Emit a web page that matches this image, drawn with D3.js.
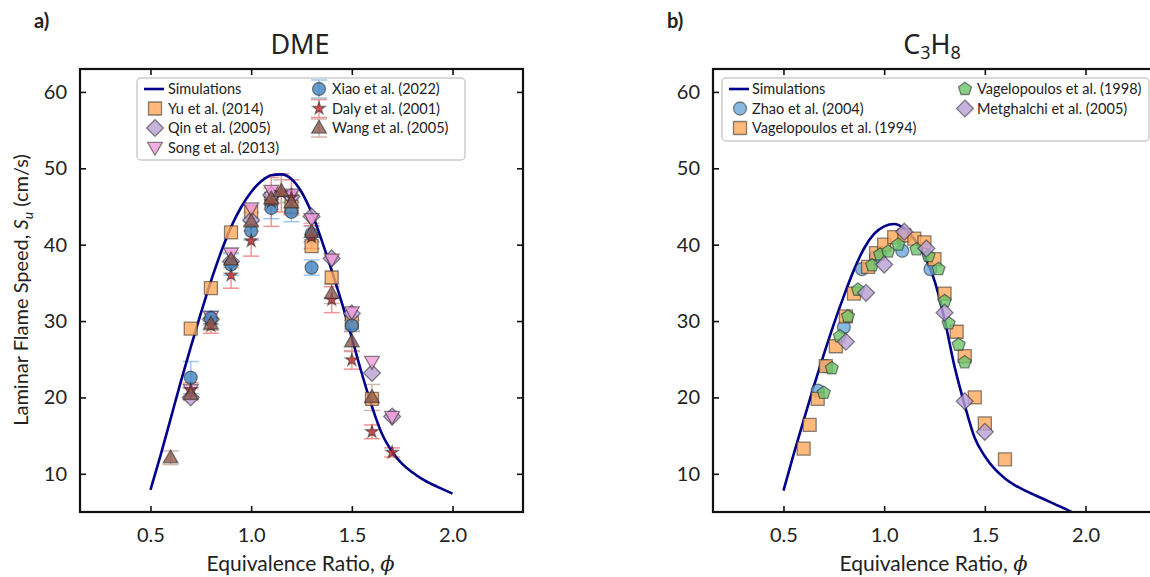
<!DOCTYPE html>
<html>
<head>
<meta charset="utf-8">
<script src="https://cdn.jsdelivr.net/npm/d3@7"></script>
<style>
  body { margin: 0; background: #fff; }
  text { font-family: Lato, "DejaVu Sans", sans-serif; fill: #222; }
</style>
</head>
<body>
<div id="chart"></div>
<script>
// ---- DME (panel a) ----
var dmeSimPhi = [0.5,0.55,0.6,0.65,0.7,0.75,0.8,0.85,0.9,0.95,1.0,1.05,1.1,1.15,1.2,1.25,1.3,1.35,1.4,1.45,1.5,1.55,1.6,1.65,1.7,1.75,1.8,1.85,1.9,1.95,2.0];
var dmeSimSu  = [7.9,12.4,17.2,22.0,26.6,31.0,35.2,39.0,42.3,44.9,46.9,48.3,49.1,49.2,48.6,46.9,44.2,40.6,36.6,32.4,27.8,23.1,18.8,15.2,12.9,11.3,10.2,9.3,8.6,8.0,7.4];

var yuPhi = [0.7,0.8,0.9,1.0,1.1,1.2,1.3,1.4,1.5,1.6];
var yuSu  = [29.0,34.3,41.6,44.3,46.0,45.0,39.8,35.7,29.8,19.8];

var qinPhi = [0.7,0.8,0.9,1.0,1.1,1.2,1.3,1.4,1.5,1.6,1.7];
var qinSu  = [20.0,30.2,37.8,43.2,46.5,46.3,43.7,38.2,31.0,23.2,17.5];

var songPhi = [0.7,0.8,0.9,1.0,1.1,1.2,1.3,1.4,1.5,1.6,1.7];
var songSu  = [21.0,30.6,38.9,44.8,47.1,46.6,43.4,38.1,31.2,24.7,17.5];

var xiaoPhi = [0.7,0.8,0.9,1.0,1.1,1.2,1.3,1.3,1.5];
var xiaoSu  = [22.6,30.4,37.4,41.8,44.8,44.3,41.4,37.0,29.4];
var xiaoErr = [2.1,0.9,1.4,1.2,1.4,1.3,1.0,1.0,0.7];

var dalyPhi = [0.7,0.8,0.9,1.0,1.1,1.15,1.2,1.3,1.4,1.5,1.6,1.7];
var dalySu  = [21.0,29.4,36.0,40.5,45.6,46.8,46.2,41.0,32.8,24.9,15.5,12.8];
var dalyErr = [0.9,1.0,1.7,2.0,3.2,2.5,2.3,1.5,1.7,1.2,0.9,0.6];

var wangPhi = [0.6,0.7,0.8,0.9,1.0,1.1,1.15,1.2,1.3,1.4,1.5,1.6];
var wangSu  = [12.1,20.4,29.6,38.0,43.0,46.0,47.0,45.5,41.6,33.6,27.3,20.0];
var wangErr = [0.9,0.8,0.8,1.0,1.2,1.4,1.5,1.4,1.2,1.3,1.3,1.7];

// ---- C3H8 (panel b) ----
var c3SimPhi = [0.5,0.55,0.6,0.65,0.7,0.75,0.8,0.85,0.9,0.95,1.0,1.05,1.1,1.15,1.2,1.25,1.3,1.35,1.4,1.45,1.5,1.55,1.6,1.65,1.7,1.75,1.8,1.85,1.9,1.93];
var c3SimSu  = [7.8,12.5,17.0,21.4,25.6,29.6,33.3,36.7,39.5,41.4,42.4,42.7,42.1,40.7,38.5,35.3,30.2,24.0,19.0,14.7,12.3,10.6,9.4,8.5,7.8,7.2,6.6,6.0,5.4,5.0];

var zhaoPhi = [0.67,0.71,0.8,0.89,0.96,1.09,1.23];
var zhaoSu  = [20.9,24.1,29.2,36.8,38.4,39.2,36.8];

var vag94Phi = [0.6,0.63,0.67,0.71,0.76,0.81,0.85,0.92,0.96,1.0,1.05,1.1,1.15,1.2,1.25,1.3,1.36,1.4,1.45,1.5,1.6];
var vag94Su  = [13.3,16.4,19.8,24.1,26.7,30.6,33.6,37.1,38.9,40.0,41.0,41.2,40.8,40.3,38.1,33.6,28.6,25.4,20.0,16.6,11.9];

var vag98Phi = [0.7,0.74,0.78,0.82,0.87,0.94,0.98,1.02,1.07,1.16,1.22,1.27,1.3,1.32,1.37,1.4];
var vag98Su  = [20.6,23.8,28.0,30.6,34.1,37.3,38.7,39.1,40.0,39.4,38.5,36.8,32.6,29.7,26.9,24.6];

var metPhi = [0.81,0.91,1.0,1.1,1.21,1.3,1.4,1.5];
var metSu  = [27.3,33.7,37.4,41.7,39.5,31.1,19.5,15.5];

var xTicks = [0.5,1.0,1.5,2.0];
var yTicks = [10,20,30,40,50,60];

// layout
var W = 1150, H = 577;
var axW = 443, axH = 443, axTop = 69;
var navy = "#00008b";
var edge = "rgba(40,40,40,0.55)";

var svg = d3.select("#chart").append("svg")
  .attr("width", W).attr("height", H);

function zip(px, py, pe) {
  return px.map(function(p, i) { return {x: p, y: py[i], e: pe ? pe[i] : 0}; });
}

// marker paths (centred on 0,0)
function markerPath(kind, s) {
  var h = s / 2, p;
  if (kind == "square") return "M" + -h + "," + -h + "h" + s + "v" + s + "h" + -s + "Z";
  if (kind == "circle") return d3.symbol(d3.symbolCircle, Math.PI * h * h)();
  if (kind == "diamond") { var r = h * 1.3; return "M0," + -r + "L" + r + ",0L0," + r + "L" + -r + ",0Z"; }
  if (kind == "tri") { var r = h * 1.2; return "M0," + -r + "L" + (r * 0.95) + "," + (r * 0.65) + "L" + (-r * 0.95) + "," + (r * 0.65) + "Z"; }
  if (kind == "tridown") { var r = h * 1.2; return "M0," + r + "L" + (r * 0.95) + "," + (-r * 0.65) + "L" + (-r * 0.95) + "," + (-r * 0.65) + "Z"; }
  if (kind == "star") return d3.symbol(d3.symbolStar, s * s * 0.25)();
  if (kind == "pent") {
    p = [];
    for (var k = 0; k < 5; k++) {
      var a = -Math.PI / 2 + k * 2 * Math.PI / 5;
      p.push([Math.cos(a) * h * 1.05, Math.sin(a) * h * 1.05]);
    }
    return "M" + p.join("L") + "Z";
  }
}

function panel(x0, opts) {
  var g = svg.append("g").attr("transform", "translate(" + x0 + "," + axTop + ")");
  var x = d3.scaleLinear().domain([0.15, 2.35]).range([0, axW]);
  var y = d3.scaleLinear().domain([5, 63]).range([axH, 0]);

  // clip
  var cid = "clip" + x0;
  g.append("clipPath").attr("id", cid).append("rect")
    .attr("width", axW).attr("height", axH);
  var plot = g.append("g").attr("clip-path", "url(#" + cid + ")");

  // axes: ticks inward on all sides
  var xb = g.append("g").attr("transform", "translate(0," + axH + ")")
    .call(d3.axisBottom(x).tickValues(xTicks).tickSizeInner(-6).tickSizeOuter(0).tickPadding(16).tickFormat(d3.format(".1f")));
  var xt = g.append("g")
    .call(d3.axisTop(x).tickValues(xTicks).tickSizeInner(-6).tickSizeOuter(0).tickFormat(""));
  var yl = g.append("g")
    .call(d3.axisLeft(y).tickValues(yTicks).tickSizeInner(-6).tickSizeOuter(0).tickPadding(13));
  var yr = g.append("g").attr("transform", "translate(" + axW + ",0)")
    .call(d3.axisRight(y).tickValues(yTicks).tickSizeInner(-6).tickSizeOuter(0).tickFormat(""));
  [xb, xt, yl, yr].forEach(function(a) {
    a.select(".domain").remove();
    a.selectAll(".tick line").attr("stroke", "#111").attr("stroke-width", 1.6);
    a.selectAll(".tick text").style("font-size", "20px").style("font-family", "Lato, 'DejaVu Sans', sans-serif").attr("fill", "#222");
  });
  g.append("rect").attr("width", axW).attr("height", axH)
    .attr("fill", "none").attr("stroke", "#111").attr("stroke-width", 2.2);

  // axis labels
  g.append("text").attr("x", axW / 2 - 1).attr("y", axH + 59)
    .attr("text-anchor", "middle").style("font-size", "21px")
    .text("Equivalence Ratio, ").append("tspan")
    .style("font-style", "italic").style("font-family", "'DejaVu Serif', serif").text("\u03d5");

  // error bars
  opts.errs.forEach(function(s) {
    var eg = plot.append("g").attr("stroke", s.ecol).attr("stroke-width", 1.5).attr("opacity", 0.75);
    s.data.forEach(function(d) {
      var cx = x(d.x), ya = y(d.y + d.e), yb = y(d.y - d.e);
      eg.append("line").attr("x1", cx).attr("x2", cx).attr("y1", ya).attr("y2", yb);
      eg.append("line").attr("x1", cx - 8).attr("x2", cx + 8).attr("y1", ya).attr("y2", ya);
      eg.append("line").attr("x1", cx - 8).attr("x2", cx + 8).attr("y1", yb).attr("y2", yb);
    });
  });

  // simulation line
  var line = d3.line().x(function(d) { return x(d.x); }).y(function(d) { return y(d.y); }).curve(d3.curveMonotoneX);
  plot.append("path").datum(opts.sim).attr("d", line)
    .attr("fill", "none").attr("stroke", navy).attr("stroke-width", 2.6);

  // markers
  opts.series.forEach(function(s) {
    plot.append("g").selectAll("path").data(s.data).enter().append("path")
      .attr("d", markerPath(s.kind, s.size))
      .attr("transform", function(d) { return "translate(" + x(d.x) + "," + y(d.y) + ")"; })
      .attr("fill", s.fill).attr("fill-opacity", s.alpha || 0.8)
      .attr("stroke", edge).attr("stroke-width", 1.3);
  });

  // legend
  var lg = g.append("g").attr("transform", "translate(" + opts.leg.x + "," + opts.leg.y + ")");
  lg.append("rect").attr("width", opts.leg.w).attr("height", opts.leg.h)
    .attr("rx", 4).attr("fill", "rgba(255,255,255,0.85)")
    .attr("stroke", "#ccc").attr("stroke-width", 1.5);
  opts.legItems.forEach(function(it, i) {
    var col = i < opts.leg.perCol ? 0 : 1;
    var row = col == 0 ? i : i - opts.leg.perCol;
    var lx = col == 0 ? 18 : opts.leg.col2;
    var ly = 11 + row * 19.5;
    var ig = lg.append("g").attr("transform", "translate(" + lx + "," + ly + ")");
    if (it.kind == "line") {
      ig.append("line").attr("x1", -11).attr("x2", 9).attr("stroke", navy).attr("stroke-width", 2.6);
    } else {
      if (it.ecol) {
        ig.append("g").attr("stroke", it.ecol).attr("stroke-width", 1.5).attr("opacity", 0.75).each(function() {
          var e = d3.select(this);
          e.append("line").attr("y1", -9).attr("y2", 9);
          e.append("line").attr("x1", -8).attr("x2", 8).attr("y1", -9).attr("y2", -9);
          e.append("line").attr("x1", -8).attr("x2", 8).attr("y1", 9).attr("y2", 9);
        });
      }
      ig.append("path").attr("d", markerPath(it.kind, it.size))
        .attr("fill", it.fill).attr("fill-opacity", it.alpha || 0.8)
        .attr("stroke", edge).attr("stroke-width", 1.3);
    }
    lg.append("text").attr("x", lx + opts.leg.tOff).attr("y", ly + 5)
      .style("font-size", "14.5px").text(it.label);
  });
  return g;
}

var dmeSeries = [
  {label: "Yu et al. (2014)", kind: "square", size: 13, fill: "#ffa85a", data: zip(yuPhi, yuSu)},
  {label: "Qin et al. (2005)", kind: "diamond", size: 13, fill: "#b99fd6", data: zip(qinPhi, qinSu)},
  {label: "Song et al. (2013)", kind: "tridown", size: 13, fill: "#f29ad8", data: zip(songPhi, songSu)},
  {label: "Xiao et al. (2022)", kind: "circle", size: 13, fill: "#3d85c0", ecol: "#7ab6e6", data: zip(xiaoPhi, xiaoSu, xiaoErr)},
  {label: "Daly et al. (2001)", kind: "star", size: 14, fill: "#c8282d", ecol: "#ee6f6f", data: zip(dalyPhi, dalySu, dalyErr)},
  {label: "Wang et al. (2005)", kind: "tri", size: 13, fill: "#8c5a4e", ecol: "#c8a096", data: zip(wangPhi, wangSu, wangErr)}
];

panel(80, {
  sim: zip(dmeSimPhi, dmeSimSu),
  series: dmeSeries,
  errs: dmeSeries.filter(function(s) { return s.ecol; }).map(function(s) { return {ecol: s.ecol, data: s.data}; }),
  leg: {x: 57, y: 9, w: 328, h: 82, perCol: 4, col2: 182, tOff: 13},
  legItems: [{label: "Simulations", kind: "line"}].concat(dmeSeries)
});

var c3Series = [
  {label: "Zhao et al. (2004)", kind: "circle", size: 13, fill: "#6aa8d8", data: zip(zhaoPhi, zhaoSu)},
  {label: "Vagelopoulos et al. (1994)", kind: "square", size: 13, fill: "#ffa85a", data: zip(vag94Phi, vag94Su)},
  {label: "Vagelopoulos et al. (1998)", kind: "pent", size: 13, fill: "#6cc36a", data: zip(vag98Phi, vag98Su)},
  {label: "Metghalchi et al. (2005)", kind: "diamond", size: 13, fill: "#b99fd6", data: zip(metPhi, metSu)}
];

panel(713, {
  sim: zip(c3SimPhi, c3SimSu),
  series: c3Series,
  errs: [],
  leg: {x: 9, y: 9, w: 427, h: 63, perCol: 3, col2: 243, tOff: 12},
  legItems: [{label: "Simulations", kind: "line"}].concat(c3Series)
});

// y label (left only)
var ylab = svg.append("text")
  .attr("transform", "translate(28,290) rotate(-90)")
  .attr("text-anchor", "middle").style("font-size", "20px");
ylab.append("tspan").text("Laminar Flame Speed, ");
ylab.append("tspan").style("font-style", "italic").text("S");
ylab.append("tspan").style("font-style", "italic").style("font-size", "14px").attr("dy", 5).text("u");
ylab.append("tspan").attr("dy", -5).text(" (cm/s)");

// titles
svg.append("text").attr("x", 300).attr("y", 54).attr("text-anchor", "middle")
  .style("font-size", "27px").style("font-family", "'Noto Sans', sans-serif").text("DME");
var t2 = svg.append("text").attr("x", 932).attr("y", 54).attr("text-anchor", "middle")
  .style("font-size", "27px").style("font-family", "'Noto Sans', sans-serif");
t2.append("tspan").text("C");
t2.append("tspan").style("font-size", "18px").attr("dy", 5).text("3");
t2.append("tspan").attr("dy", -5).text("H");
t2.append("tspan").style("font-size", "18px").attr("dy", 5).text("8");

svg.append("text").attr("x", 34).attr("y", 28).style("font-size", "20px").style("font-weight", "bold").text("a)");
svg.append("text").attr("x", 667).attr("y", 28).style("font-size", "20px").style("font-weight", "bold").text("b)");
</script>
</body>
</html>
